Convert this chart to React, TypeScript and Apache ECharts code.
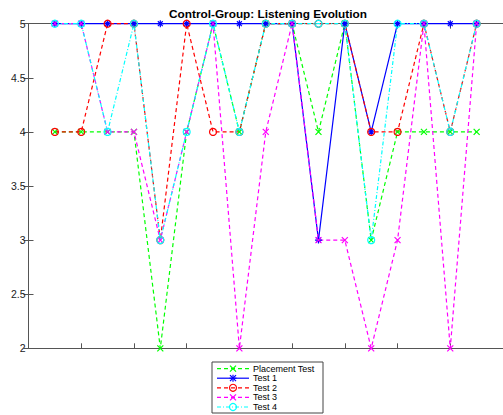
import React, { useEffect, useRef } from "react";
import * as echarts from "echarts";

const xValues = [1, 2, 3, 4, 5, 6, 7, 8, 9, 10, 11, 12, 13, 14, 15, 16, 17];
const placementTest = [4, 4, 4, 4, 2, 4, 5, 4, 5, 5, 4, 5, 3, 4, 4, 4, 4];
const test1 = [5, 5, 5, 5, 5, 5, 5, 5, 5, 5, 3, 5, 4, 5, 5, 5, 5];
const test2 = [4, 4, 5, 5, 3, 5, 4, 4, 5, 5, 5, 5, 4, 4, 5, 4, 5];
const test3 = [5, 5, 4, 4, 3, 4, 5, 2, 4, 5, 3, 3, 2, 3, 5, 2, 5];
const test4 = [5, 5, 4, 5, 3, 4, 5, 4, 5, 5, 5, 5, 3, 5, 5, 4, 5];
const seriesNames = ["Placement Test", "Test 1", "Test 2", "Test 3", "Test 4"];
const seriesColors = ["#00ff00", "#0000ff", "#ff0000", "#ff00ff", "#00ffff"];
const seriesMarkers = ["cross", "star", "circle", "cross", "circle"];
const seriesDash: any[] = [[4, 3], null, [4, 3], [4, 3], [4, 2, 1, 2]];
const title = "Control-Group: Listening Evolution";

const CROSS = "path://M0,0L10,10M10,0L0,10";
const STAR = "path://M5,0L5,10M0,5L10,5M1.5,1.5L8.5,8.5M8.5,1.5L1.5,8.5";
const FONT = "Liberation Sans, Arial, sans-serif";

function markerGraphic(kind: string, cx: number, cy: number, color: string) {
  const st = { stroke: color, lineWidth: 1.2, fill: "none" };
  if (kind === "circle") {
    return [{ type: "circle", shape: { cx, cy, r: 3.5 }, style: st }];
  }
  const r = 3;
  const segs: number[][] = [
    [cx - r, cy - r, cx + r, cy + r],
    [cx + r, cy - r, cx - r, cy + r],
  ];
  if (kind === "star") {
    segs.push([cx, cy - 3.5, cx, cy + 3.5], [cx - 3.5, cy, cx + 3.5, cy]);
  }
  return segs.map((s) => ({ type: "line", shape: { x1: s[0], y1: s[1], x2: s[2], y2: s[3] }, style: st }));
}

export default function App() {
  const ref = useRef<HTMLDivElement>(null);
  useEffect(() => {
    if (!ref.current) return;
    const chart = echarts.init(ref.current, undefined, { renderer: "svg" });
    const pts = (arr: number[]) => xValues.map((x, i) => [x, arr[i]]);
    const mk = (name: string, arr: number[], color: string, symbol: string, size: number, dash: any) => ({
      name,
      type: "line",
      data: pts(arr),
      clip: false,
      symbol,
      symbolSize: size,
      showSymbol: true,
      color,
      lineStyle: { color, width: 1.2, type: dash },
      itemStyle: { color: "none", borderColor: color, borderWidth: 1.2 },
      emphasis: { disabled: true },
      z: 2,
    });
    const axisLine = { show: true, lineStyle: { color: "#555", width: 1 } };
    const axisTick = { show: true, inside: true, length: 5, lineStyle: { color: "#555", width: 1 } };

    const rowGap = 9.6;
    const legendEls: any[] = [
      { type: "rect", shape: { x: 212, y: 362, width: 111, height: 51 }, style: { fill: "#fff", stroke: "#444", lineWidth: 1 }, z: 10 },
    ];
    seriesNames.forEach((n, i) => {
      const y = 368.6 + i * rowGap;
      legendEls.push({
        type: "line",
        shape: { x1: 217, y1: y, x2: 249, y2: y },
        style: { stroke: seriesColors[i], lineWidth: 1.2, lineDash: seriesDash[i] || undefined },
        z: 11,
      });
      markerGraphic(seriesMarkers[i], 233, y, seriesColors[i]).forEach((m) => legendEls.push({ ...m, z: 12 }));
      legendEls.push({
        type: "text",
        x: 253,
        y,
        style: { text: n, fontSize: 9, fontFamily: FONT, fill: "#000", verticalAlign: "middle", align: "left" },
        z: 12,
      });
    });

    chart.setOption({
      animation: false,
      backgroundColor: "#fff",
      title: {
        text: title,
        left: 268,
        textAlign: "center",
        top: 8,
        padding: 0,
        textStyle: { fontSize: 11.8, fontWeight: "bold", color: "#000", fontFamily: FONT },
      },
      grid: { left: 28.5, top: 23.7, width: 477.5, height: 324.6 },
      xAxis: [
        { type: "value", min: 0, max: 18, interval: 2, position: "bottom", axisLine, axisTick, axisLabel: { show: false }, splitLine: { show: false } },
        { type: "value", min: 0, max: 18, interval: 2, position: "top", axisLine, axisTick, axisLabel: { show: false }, splitLine: { show: false } },
      ],
      yAxis: [
        {
          type: "value", min: 2, max: 5, interval: 0.5, position: "left", axisLine, axisTick,
          axisLabel: { show: true, margin: 3, fontSize: 10.5, color: "#222", fontFamily: FONT },
          splitLine: { show: false },
        },
        { type: "value", min: 2, max: 5, interval: 0.5, position: "right", axisLine, axisTick, axisLabel: { show: false }, splitLine: { show: false } },
      ],
      graphic: legendEls,
      series: [
        mk(seriesNames[0], placementTest, seriesColors[0], CROSS, 6, seriesDash[0]),
        mk(seriesNames[1], test1, seriesColors[1], STAR, 7, "solid"),
        mk(seriesNames[2], test2, seriesColors[2], "circle", 7, seriesDash[2]),
        mk(seriesNames[3], test3, seriesColors[3], CROSS, 6, seriesDash[3]),
        mk(seriesNames[4], test4, seriesColors[4], "circle", 7, seriesDash[4]),
      ],
    });
    return () => chart.dispose();
  }, []);
  return <div ref={ref} style={{ position: "fixed", left: 0, top: 0, width: 503, height: 415 }} />;
}
